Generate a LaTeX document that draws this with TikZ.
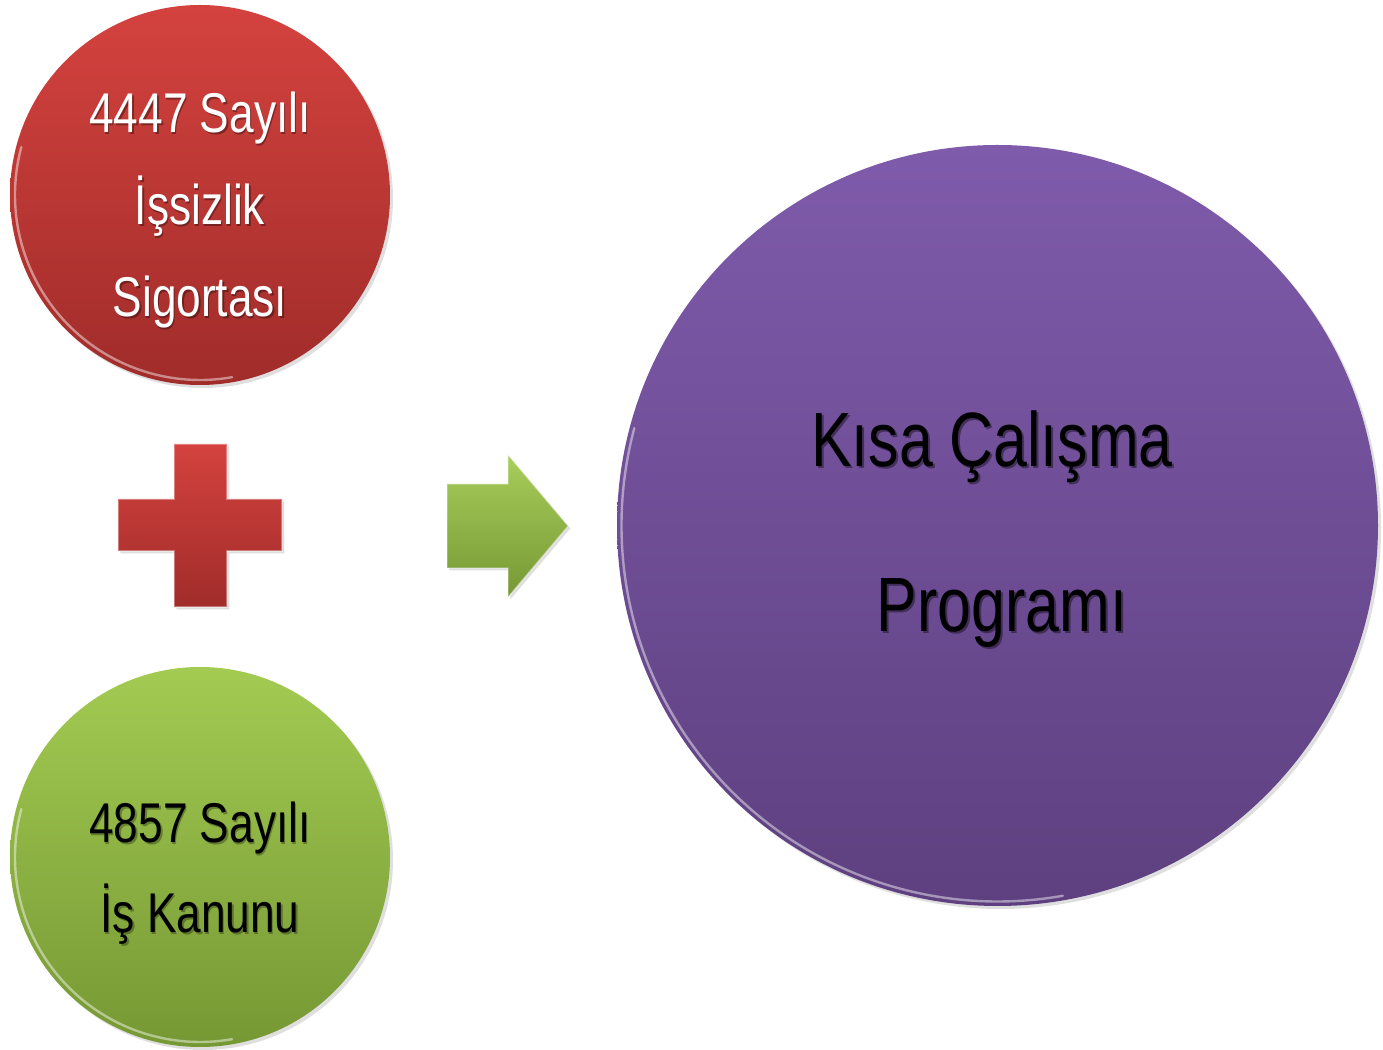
\documentclass[tikz,border=0pt]{standalone}
\usepackage{fontspec}
\setmainfont{Liberation Sans}[FakeStretch=0.79]
\usetikzlibrary{shadows}
\definecolor{redtop}{RGB}{212,66,62}
\definecolor{redbot}{RGB}{160,44,42}
\definecolor{grntop}{RGB}{163,203,82}
\definecolor{grnbot}{RGB}{118,152,52}
\definecolor{purtop}{RGB}{127,91,171}
\definecolor{purbot}{RGB}{94,64,128}
\tikzset{
  ball/.style={circle, inner sep=0pt, draw=none, drop shadow={shadow xshift=1.5pt, shadow yshift=-1.5pt, opacity=0.25}},
  rim/.style={draw=white, draw opacity=0.45, line width=1.2pt, line cap=round},
  txt/.style={anchor=base, inner sep=0pt, font=\fontsize{28pt}{28pt}\selectfont},
  bigtxt/.style={anchor=base, inner sep=0pt, font=\fontsize{38.5pt}{38.5pt}\selectfont},
  shd/.style={text=black, text opacity=0.35},
  shape3d/.style={draw=white, draw opacity=0.35, line width=0.6pt, line join=miter, drop shadow={shadow xshift=1.2pt, shadow yshift=-1.2pt, opacity=0.25}}
}
\begin{document}
\begin{tikzpicture}[x=0.5pt,y=0.5pt]
\useasboundingbox (0,0) rectangle (1383,1050);
% circles
\node[ball, minimum size=190pt, top color=redtop, bottom color=redbot] (red) at (200,855) {};
\node[ball, minimum size=190pt, top color=grntop, bottom color=grnbot] (green) at (200,193) {};
\node[ball, minimum size=380.5pt, top color=purtop, bottom color=purbot] (purple) at (997.5,524.5) {};
% rim highlights
\draw[rim] (red.center) ++(165:92.5pt) arc[start angle=165, end angle=280, radius=92.5pt];
\draw[rim] (green.center) ++(165:92.5pt) arc[start angle=165, end angle=280, radius=92.5pt];
\draw[rim] (purple.center) ++(165:188pt) arc[start angle=165, end angle=280, radius=188pt];
% plus sign
\path[shape3d, top color=redtop, bottom color=redbot]
  (174,606) -- (227,606) -- (227,551) -- (282,551) -- (282,499) -- (227,499)
  -- (227,443) -- (174,443) -- (174,499) -- (118,499) -- (118,551) -- (174,551) -- cycle;
\coordinate (plus) at (200,525);
% arrow
\path[shape3d, top color=grntop!95!white, bottom color=grnbot]
  (447,566) -- (508,566) -- (508,595) -- (568,524) -- (508,453) -- (508,482) -- (447,482) -- cycle;
\coordinate (arrow) at (507,524);
% red texts
\node[txt, shd] (r1s) at (201.5,915.5) {4447 Sayılı};
\node[txt, text=white] (r1) at (200,917) {4447 Sayılı};
\node[txt, shd] (r2s) at (201.5,823.5) {İşsizlik};
\node[txt, text=white] (r2) at (200,825) {İşsizlik};
\node[txt, shd] (r3s) at (201.5,731.5) {Sigortası};
\node[txt, text=white] (r3) at (200,733) {Sigortası};
% green texts
\node[txt, shd, text opacity=0.3] (g1s) at (201.5,205.5) {4857 Sayılı};
\node[txt, text=black] (g1) at (200,207) {4857 Sayılı};
\node[txt, shd, text opacity=0.3] (g2s) at (201.5,115.5) {İş Kanunu};
\node[txt, text=black] (g2) at (200,117) {İş Kanunu};
% purple texts
\node[bigtxt, shd, text opacity=0.4] (p1s) at (994,581) {Kısa Çalışma};
\node[bigtxt, text=black] (p1) at (992,583) {Kısa Çalışma};
\node[bigtxt, shd, text opacity=0.4] (p2s) at (1004,416) {Programı};
\node[bigtxt, text=black] (p2) at (1002,418) {Programı};
\end{tikzpicture}
\end{document}
